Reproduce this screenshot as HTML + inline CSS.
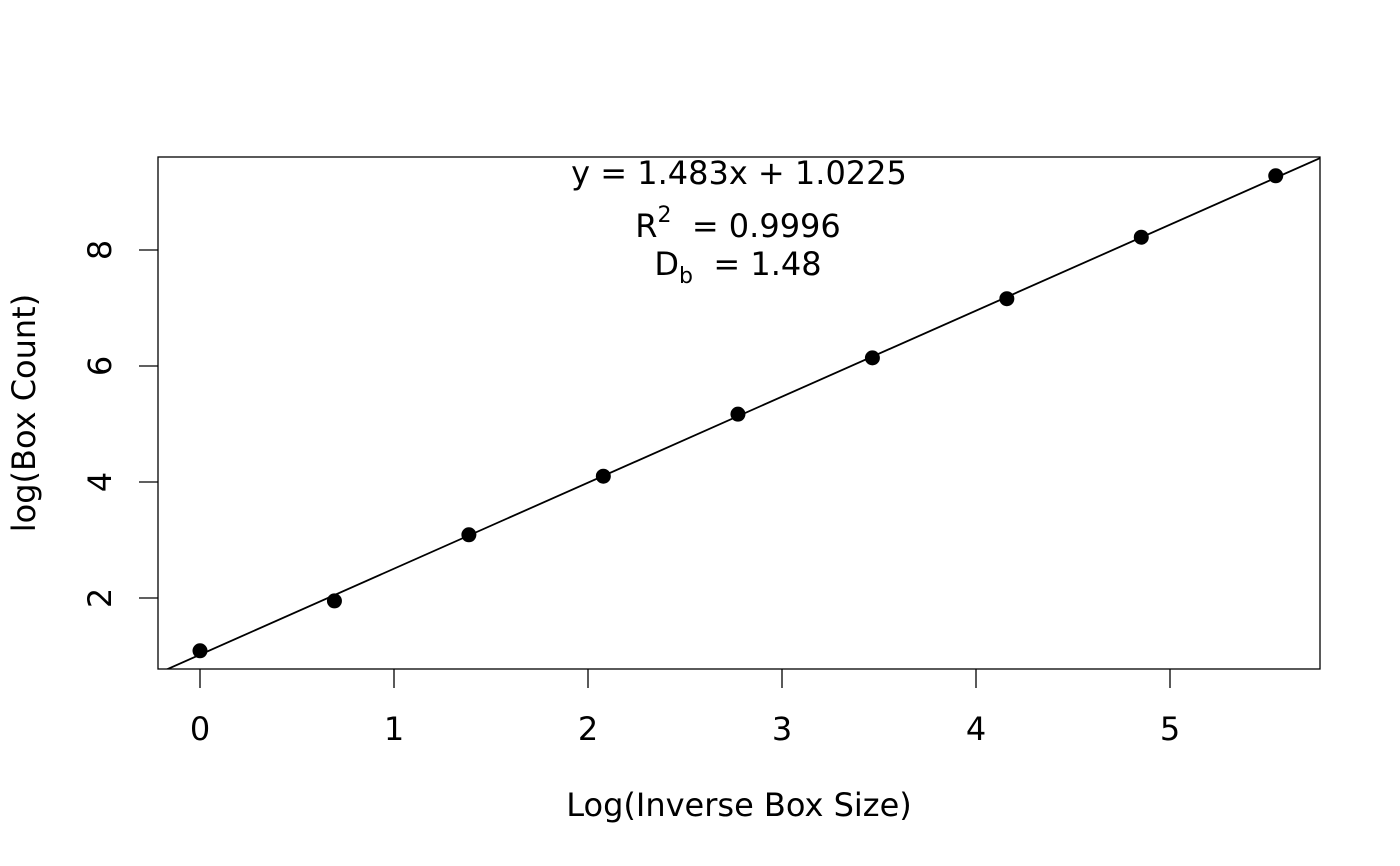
<!DOCTYPE html>
<html><head><meta charset="utf-8"><style>
html,body{margin:0;padding:0;background:#fff}
svg{display:block;font-family:"DejaVu Sans","Liberation Sans",sans-serif}
text{white-space:pre}
</style></head><body>
<svg id="chart" width="1400" height="866" viewBox="0 0 1400 866">
<defs><clipPath id="clip"><rect x="158" y="157" width="1162" height="512"/></clipPath></defs>
<rect x="158" y="157" width="1162" height="512" fill="none" stroke="#000" stroke-width="1.3"/>
<g id="xaxis"></g>
<g id="yaxis"></g>
<g id="marks" clip-path="url(#clip)"></g>
<text x="739" y="816" font-size="32" text-anchor="middle">Log(Inverse Box Size)</text>
<text transform="translate(35,413) rotate(-90)" font-size="32" text-anchor="middle">log(Box Count)</text>
<text x="739" y="184" font-size="32" text-anchor="middle">y = 1.483x + 1.0225</text>
<text x="738" y="237" font-size="32" text-anchor="middle">R<tspan dy="-15" font-size="22">2</tspan><tspan dy="15">  = 0.9996</tspan></text>
<text x="738" y="275" font-size="32" text-anchor="middle">D<tspan dy="8" font-size="22">b</tspan><tspan dy="-8">  = 1.48</tspan></text>
</svg>
<script>
const xValues=[0,0.693,1.386,2.079,2.773,3.466,4.159,4.852,5.545];
const yValues=[1.09,1.95,3.09,4.10,5.17,6.14,7.16,8.22,9.28];
const xTicks=[0,1,2,3,4,5];
const yTicks=[2,4,6,8];
const fitSlope=[1.483];
const fitIntercept=[1.0225];
const NS="http://www.w3.org/2000/svg";
function sx(v){return 200+v*194;}
function sy(v){return 714-v*58;}
function mk(t,a,p){const e=document.createElementNS(NS,t);for(const k in a)e.setAttribute(k,a[k]);p.appendChild(e);return e;}
const xa=document.getElementById('xaxis'),ya=document.getElementById('yaxis'),mg=document.getElementById('marks');
xTicks.forEach(t=>{
 const l=mk('line',{x1:sx(t),x2:sx(t),y1:669,y2:688,stroke:'#000','stroke-width':1.3},xa);
 
 
 const tx=mk('text',{x:sx(t),y:740,'font-size':32,'text-anchor':'middle'},xa);tx.textContent=t;
 
 
});
yTicks.forEach(t=>{
 const l=mk('line',{x1:139,x2:158,y1:sy(t),y2:sy(t),stroke:'#000','stroke-width':1.3},ya);
 
 
 const tx=mk('text',{transform:`translate(111,${sy(t)}) rotate(-90)`,'font-size':32,'text-anchor':'middle'},ya);tx.textContent=t;
 
 
});
const x0=-0.3,x1=6;
const fl=mk('line',{x1:sx(x0),y1:sy(fitSlope[0]*x0+fitIntercept[0]),x2:sx(x1),y2:sy(fitSlope[0]*x1+fitIntercept[0]),stroke:'#000','stroke-width':1.8},mg);


xValues.forEach((x,i)=>{
 const c=mk('circle',{cx:sx(x),cy:sy(yValues[i]),r:7.5,fill:'#000'},mg);
 
 
});
</script>
</body></html>
